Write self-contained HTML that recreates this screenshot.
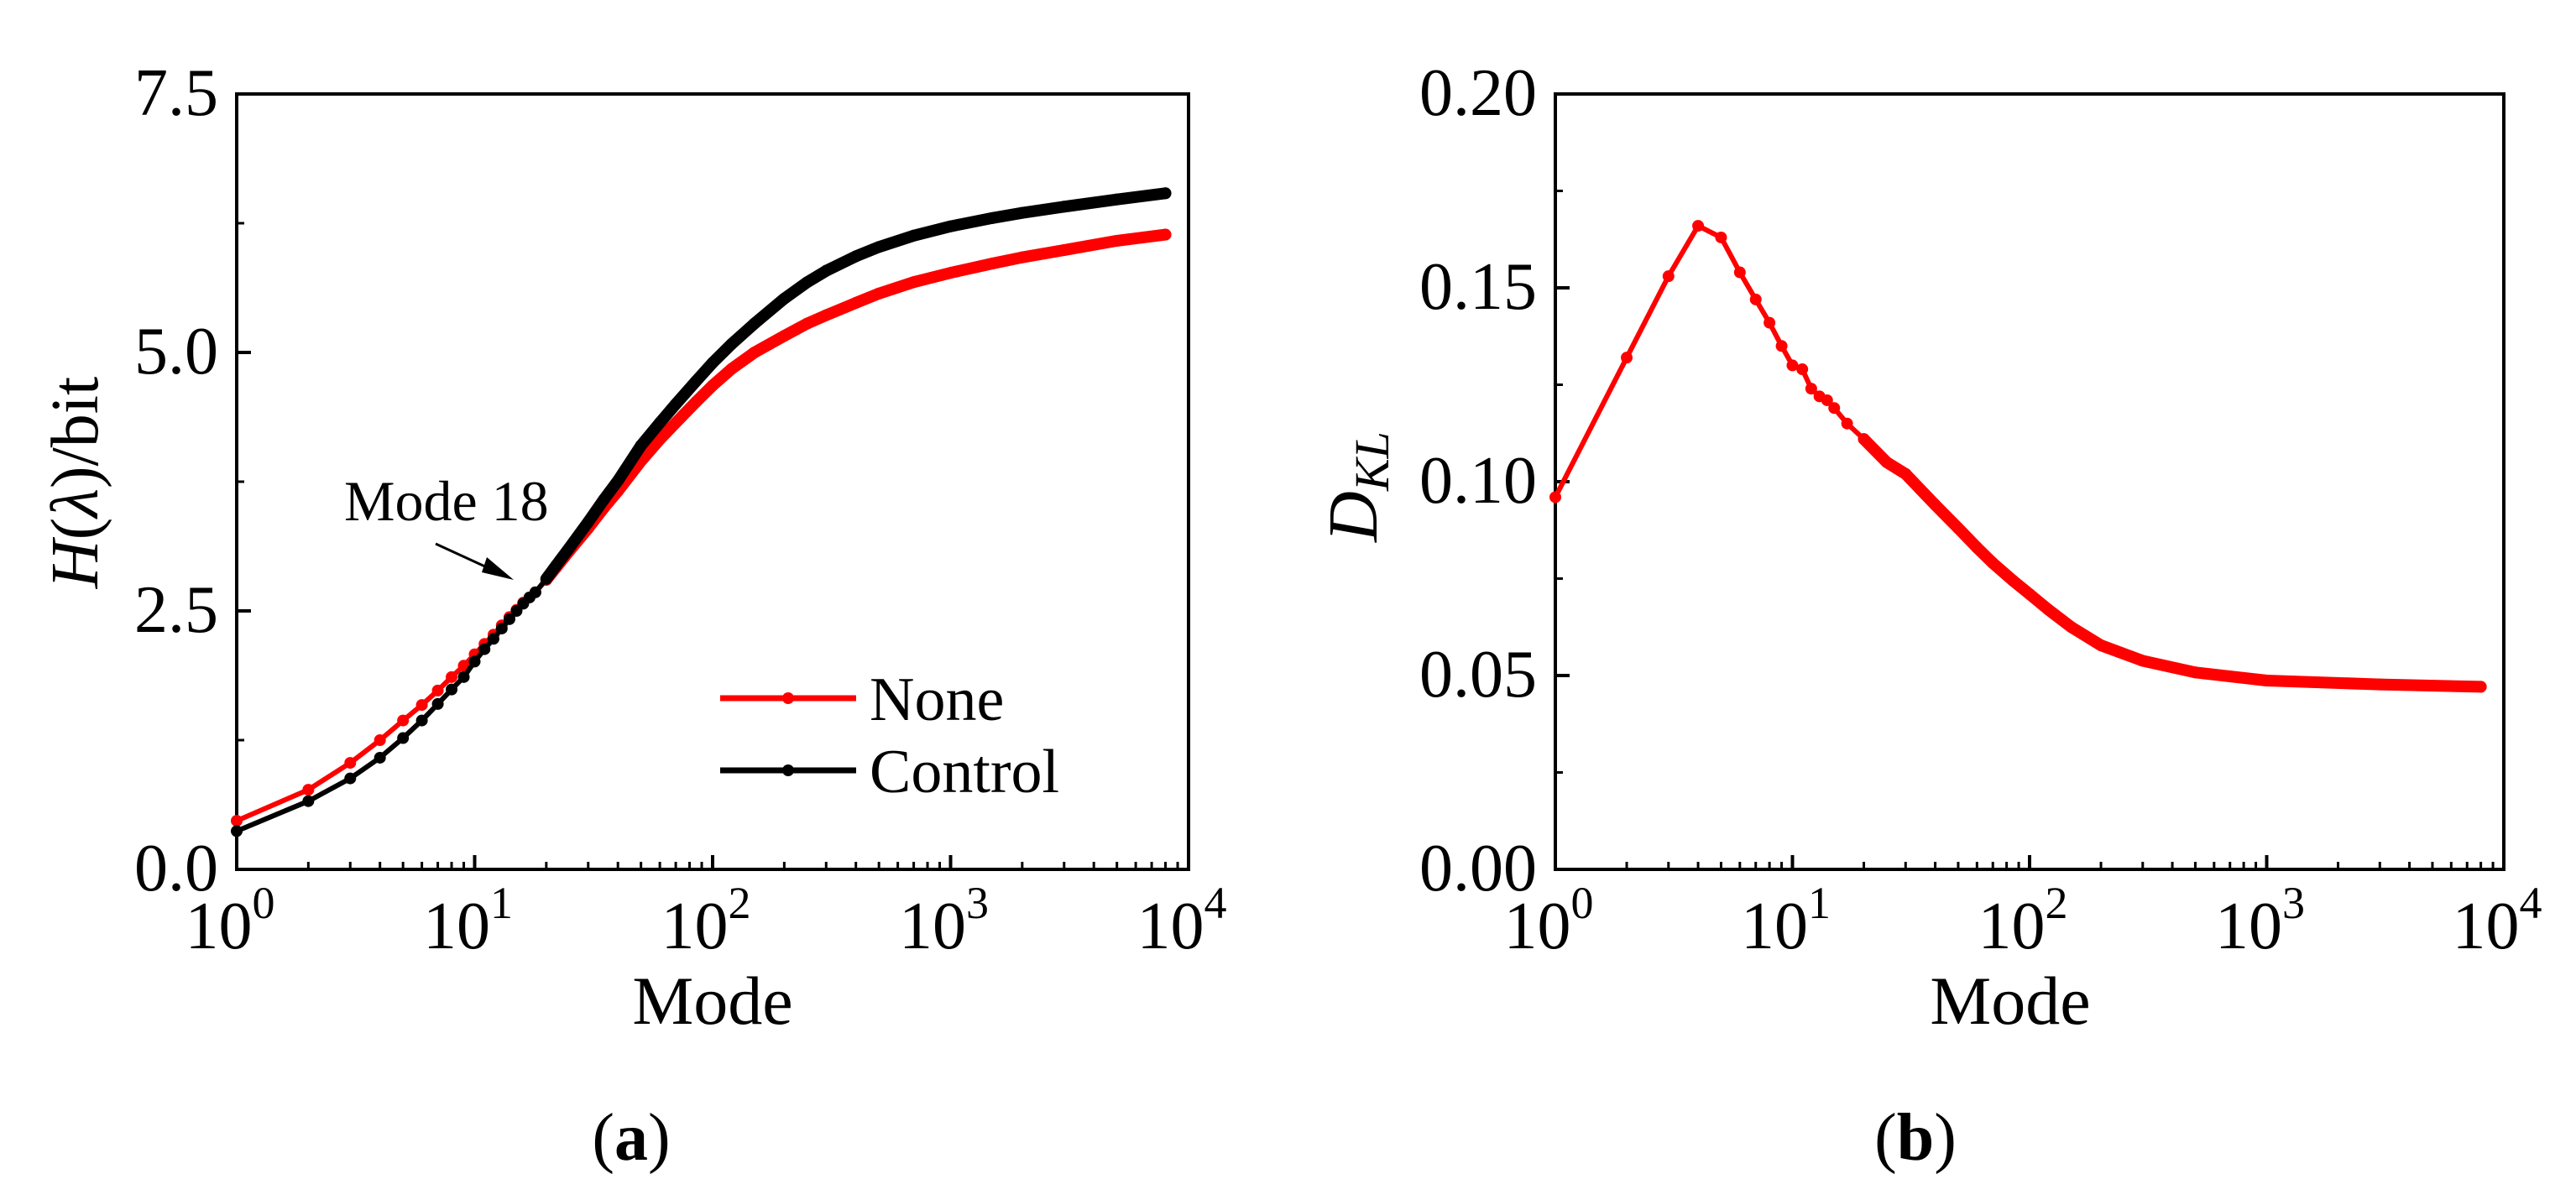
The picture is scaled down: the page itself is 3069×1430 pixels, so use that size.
<!DOCTYPE html>
<html><head><meta charset="utf-8"><style>
html,body{margin:0;padding:0;background:#fff;}
svg{display:block;}
text{font-family:"Liberation Serif",serif;fill:#000;}
</style></head><body>
<svg id="fig" width="3069" height="1430" viewBox="0 0 3069 1430" xmlns="http://www.w3.org/2000/svg">
<g id="pa"></g>
<g id="pb"></g>
</svg>
<script>
// Panel (a) data
const aModes = [1,2,3,4,5,6,7,8,9,10,11,12,13,14,15,16,17,18,20,22,25,30,35,40,50,60,70,85,100,120,150,200,250,300,400,500,700,1000,1500,2000,3000,5000,8000];
const aNone = [0.47,0.77,1.03,1.25,1.44,1.59,1.73,1.86,1.97,2.08,2.18,2.27,2.36,2.44,2.51,2.58,2.63,2.68,2.80,2.92,3.08,3.30,3.50,3.66,3.95,4.16,4.32,4.52,4.68,4.84,5.00,5.16,5.28,5.36,5.48,5.57,5.68,5.77,5.86,5.92,5.99,6.08,6.14];
const aControl = [0.37,0.66,0.88,1.08,1.27,1.44,1.60,1.74,1.86,2.01,2.13,2.23,2.33,2.42,2.50,2.57,2.63,2.68,2.81,2.94,3.11,3.36,3.58,3.76,4.10,4.32,4.50,4.72,4.90,5.08,5.28,5.52,5.68,5.79,5.93,6.02,6.13,6.22,6.30,6.35,6.41,6.48,6.54];
const aYTicks = ["0.0","2.5","5.0","7.5"];
const aYTickVals = [0,2.5,5,7.5];
// Panel (b) data
const bModes = [1,2,3,4,5,6,7,8,9,10,11,12,13,14,15,17,20,25,30,40,50,60,70,85,100,120,150,200,300,500,1000,3000,8000];
const bDkl = [0.096,0.132,0.153,0.166,0.163,0.154,0.147,0.141,0.135,0.130,0.129,0.124,0.122,0.121,0.119,0.115,0.111,0.105,0.102,0.094,0.088,0.083,0.079,0.0745,0.071,0.067,0.0625,0.0578,0.0538,0.0508,0.0487,0.0477,0.0471];
const bYTicks = ["0.00","0.05","0.10","0.15","0.20"];
const bYTickVals = [0,0.05,0.10,0.15,0.20];
const xDecades = [0,1,2,3,4];

const NS="http://www.w3.org/2000/svg";
function mk(parent,tag,attrs,txt){const e=document.createElementNS(NS,tag);for(const k in attrs)e.setAttribute(k,attrs[k]);if(txt!==undefined)e.textContent=txt;parent.appendChild(e);return e;}

function axes(g,L,R,T,B,ymax,yTicks,yVals,ymin){
  const sx=v=>L+(Math.log10(v))/4*(R-L);
  const sy=v=>B-(v-ymin)/(ymax-ymin)*(B-T);
  const frame=mk(g,'rect',{x:L,y:T,width:R-L,height:B-T,fill:'none',stroke:'#000','stroke-width':4});
  
  
  for(let i=0;i<yVals.length;i++){
    const y=sy(yVals[i]);
    const t=mk(g,'line',{x1:L,x2:L+17,y1:y,y2:y,stroke:'#000','stroke-width':4});
    
    
    const lb=mk(g,'text',{x:L-22,y:y+25,'font-size':80,'text-anchor':'end'},yTicks[i]);
    
    
    if(i<yVals.length-1){
      const ym=sy((yVals[i]+yVals[i+1])/2);
      const m=mk(g,'line',{x1:L,x2:L+9,y1:ym,y2:ym,stroke:'#000','stroke-width':3});
      
      
    }
  }
  for(const d of xDecades){
    const x=sx(Math.pow(10,d));
    const t=mk(g,'line',{x1:x,x2:x,y1:B,y2:B-17,stroke:'#000','stroke-width':4});
    
    
    const lb=mk(g,'text',{x:x-8,y:1130,'font-size':80,'text-anchor':'middle'});
    
    
    mk(lb,'tspan',{},'10');
    mk(lb,'tspan',{dy:-36,'font-size':54},String(d));
    if(d<4){for(let k=2;k<=9;k++){
      const xm=sx(k*Math.pow(10,d));
      const m=mk(g,'line',{x1:xm,x2:xm,y1:B,y2:B-9,stroke:'#000','stroke-width':3});
      
      
    }}
  }
  return {sx,sy};
}
function series(g,modes,vals,sx,sy,color,name){
  const pts=modes.map((m,i)=>sx(m).toFixed(1)+','+sy(vals[i]).toFixed(1)).join(' ');
  const pl=mk(g,'polyline',{points:pts,fill:'none',stroke:color,'stroke-width':6,'stroke-linejoin':'round'});
  
  
  modes.forEach((m,i)=>{
    const c=mk(g,'circle',{cx:sx(m),cy:sy(vals[i]),r:7,fill:color});
    
    
  });
  const tail=[];modes.forEach((m,i)=>{if(m>=20)tail.push(sx(m).toFixed(1)+','+sy(vals[i]).toFixed(1));});
  const tl=mk(g,'polyline',{points:tail.join(' '),fill:'none',stroke:color,'stroke-width':14,'stroke-linejoin':'round','stroke-linecap':'round'});
  
  
}

// Panel a
const ga=document.getElementById('pa');
const A=axes(ga,282,1416,112,1036,7.5,aYTicks,aYTickVals,0);
series(ga,aModes,aNone,A.sx,A.sy,'#ff0000','none-series');
series(ga,aModes,aControl,A.sx,A.sy,'#000000','control-series');
let t;
t=mk(ga,'text',{x:849,y:1220,'font-size':82,'text-anchor':'middle'},'Mode');


t=mk(ga,'text',{x:0,y:0,'font-size':80,'text-anchor':'middle',transform:'translate(116,575) rotate(-90)'});


mk(t,'tspan',{'font-style':'italic'},'H');mk(t,'tspan',{},'(');mk(t,'tspan',{'font-style':'italic'},'λ');mk(t,'tspan',{},')/bit');
t=mk(ga,'text',{x:410,y:620,'font-size':68},'Mode 18');


t=mk(ga,'line',{x1:519,y1:648,x2:606,y2:688,stroke:'#000','stroke-width':3});


t=mk(ga,'polygon',{points:'612,691 580,664 574,682',fill:'#000'});


t=mk(ga,'line',{x1:858,x2:1020,y1:832,y2:832,stroke:'#ff0000','stroke-width':7});


t=mk(ga,'circle',{cx:939,cy:832,r:7,fill:'#ff0000'});


t=mk(ga,'text',{x:1036,y:858,'font-size':74},'None');


t=mk(ga,'line',{x1:858,x2:1020,y1:918,y2:918,stroke:'#000','stroke-width':7});


t=mk(ga,'circle',{cx:939,cy:918,r:7,fill:'#000'});


t=mk(ga,'text',{x:1036,y:944,'font-size':74},'Control');


t=mk(ga,'text',{x:752,y:1382,'font-size':80,'text-anchor':'middle'});


mk(t,'tspan',{},'(');mk(t,'tspan',{'font-weight':'bold'},'a');mk(t,'tspan',{},')');

// Panel b
const gb=document.getElementById('pb');
const Bx=axes(gb,1853,2983,112,1036,0.20,bYTicks,bYTickVals,0);
series(gb,bModes,bDkl,Bx.sx,Bx.sy,'#ff0000','dkl-series');
t=mk(gb,'text',{x:2395,y:1220,'font-size':82,'text-anchor':'middle'},'Mode');


t=mk(gb,'text',{x:0,y:0,'font-size':84,'text-anchor':'middle','font-style':'italic',transform:'translate(1640,580) rotate(-90)'});


mk(t,'tspan',{},'D');mk(t,'tspan',{dy:14,'font-size':58},'KL');
t=mk(gb,'text',{x:2282,y:1382,'font-size':80,'text-anchor':'middle'});


mk(t,'tspan',{},'(');mk(t,'tspan',{'font-weight':'bold'},'b');mk(t,'tspan',{},')');
</script>
</body></html>
